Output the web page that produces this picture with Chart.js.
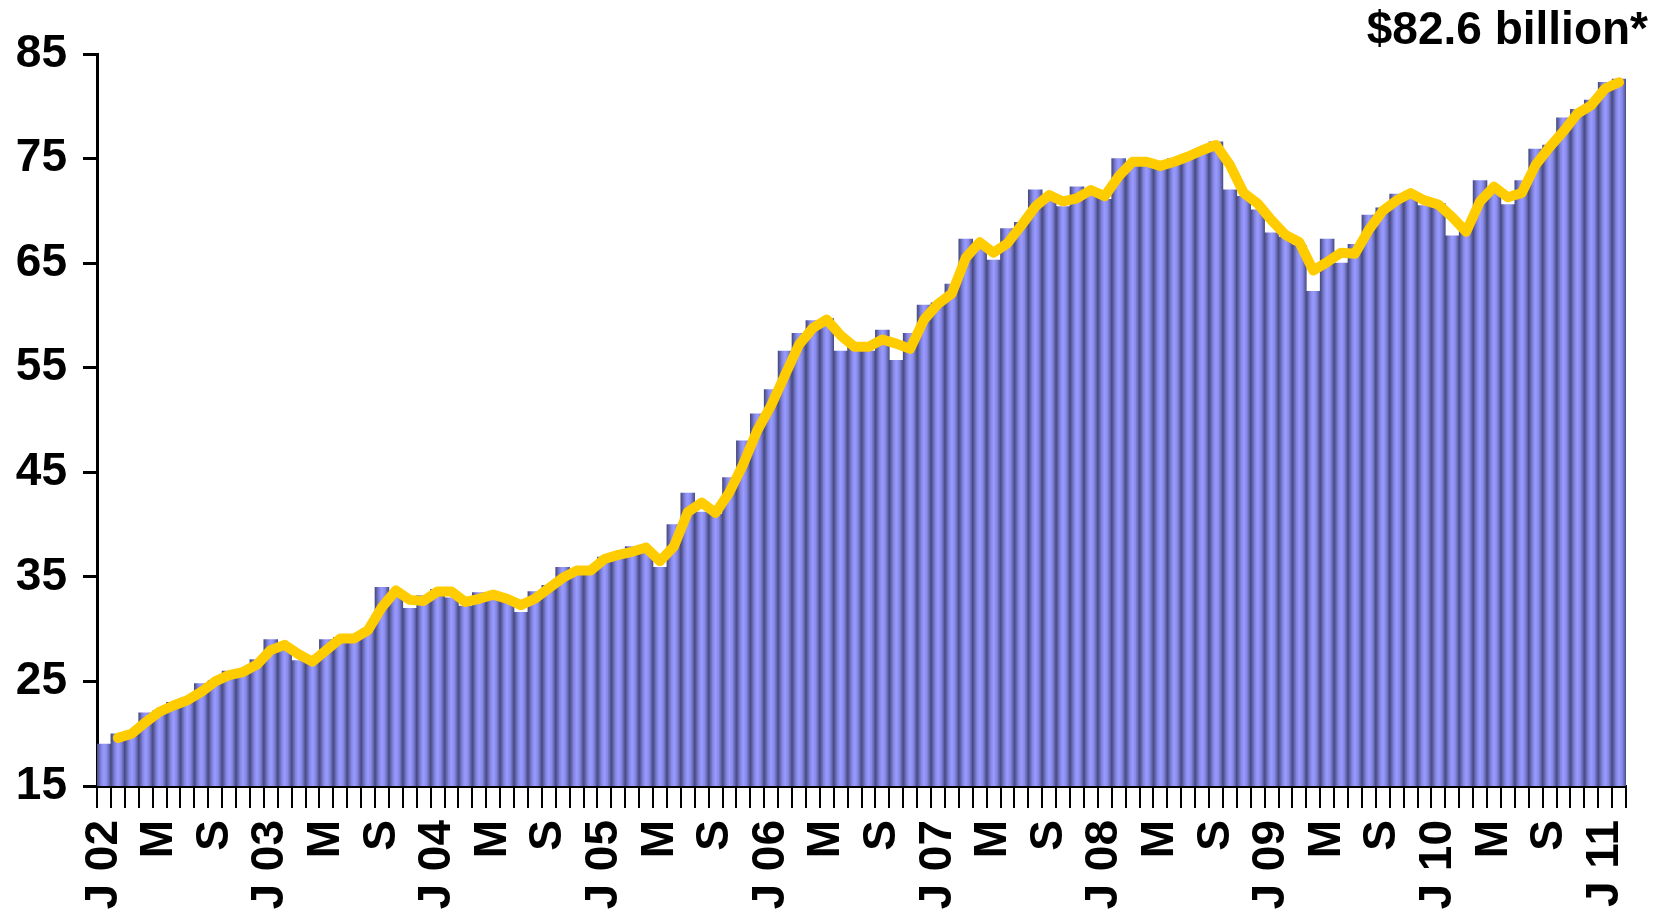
<!DOCTYPE html>
<html>
<head>
<meta charset="utf-8">
<script src="https://cdn.jsdelivr.net/npm/chart.js@4.4.1/dist/chart.umd.min.js"></script>
<style>
	html, body { margin: 0; padding: 0; background: #fff; }
	#wrap { width: 1661px; height: 912px; }
</style>
</head>
<body>
<div id="wrap"><canvas id="chart" width="1661" height="912"></canvas></div>
<script>
const monthNames = ["Jan", "Feb", "Mar", "Apr", "May", "Jun", "Jul", "Aug", "Sep", "Oct", "Nov", "Dec"]
const years = ["02", "03", "04", "05", "06", "07", "08", "09", "10", "11"]

// Jan 2002 .. Feb 2011, monthly
const categories = []
years.forEach(y => monthNames.forEach(m => categories.push(m + " " + y)))
categories.length = 110

const tickLabels = ["J 02", "M", "S", "J 03", "M", "S", "J 04", "M", "S", "J 05", "M", "S", "J 06", "M", "S",
	"J 07", "M", "S", "J 08", "M", "S", "J 09", "M", "S", "J 10", "M", "S", "J 11"]

const monthly = [
	19, 20, 20.2, 22, 22.2, 23, 23.4, 24.8, 25.1, 26,
	25.9, 27.1, 29, 28.2, 27, 26.8, 29, 29.2, 29, 30,
	34, 33.4, 32, 33.2, 33.8, 33, 32.2, 33.5, 32.8, 33,
	31.6, 33.6, 34.2, 35.9, 35.3, 35.9, 36.9, 37.3, 37.9, 37.7,
	35.9, 40, 43, 41.2, 41, 44.5, 48, 50.6, 52.9, 56.6,
	58.3, 59.5, 59.7, 56.6, 57.4, 56.6, 58.6, 55.7, 58.3, 61,
	61.2, 63, 67.3, 66.7, 65.3, 68.3, 68.9, 72, 71, 70.4,
	72.3, 71.7, 71.1, 75, 74.4, 74.8, 74.2, 75, 75.3, 75.9,
	76.6, 72, 71.4, 70.1, 67.9, 67.5, 66.7, 62.3, 67.3, 65,
	66.8, 69.6, 70.3, 71.6, 71.8, 70.5, 70.7, 67.6, 68.4, 72.9,
	71.7, 70.6, 72.9, 75.9, 76.3, 78.9, 79.7, 80.6, 82.3, 82.6
]

const average = [
	null, 19.6, 20.0, 21.1, 22.1, 22.7, 23.2, 24.0, 25.0, 25.6,
	25.9, 26.6, 28.0, 28.5, 27.6, 26.9, 28.0, 29.1, 29.1, 29.9,
	32.1, 33.7, 32.8, 32.7, 33.6, 33.6, 32.6, 32.9, 33.3, 32.9,
	32.3, 32.9, 33.9, 34.9, 35.6, 35.6, 36.7, 37.1, 37.4, 37.8,
	36.5, 37.9, 41.2, 42.1, 41.1, 43.1, 45.8, 49.0, 51.4, 54.3,
	57.2, 58.8, 59.6, 58.1, 57.0, 57.0, 57.7, 57.3, 56.8, 59.6,
	61.1, 62.1, 65.5, 67.0, 66.0, 66.9, 68.6, 70.4, 71.5, 70.9,
	71.2, 72.0, 71.4, 73.3, 74.7, 74.7, 74.3, 74.7, 75.2, 75.8,
	76.3, 74.4, 71.7, 70.7, 69.1, 67.7, 67.0, 64.3, 65.1, 66.0,
	65.9, 68.2, 70.0, 71.0, 71.7, 71.0, 70.6, 69.4, 68.0, 70.9,
	72.3, 71.3, 71.7, 74.4, 76.1, 77.6, 79.3, 80.1, 81.7, 82.3
]

const yTicks = [15, 25, 35, 45, 55, 65, 75, 85]
const title = "$82.6 billion*"
const font = "'Liberation Sans', Arial, sans-serif"

// every bar is shaded like a little cylinder
const barFill = ctx => {
	const x = ctx.chart.scales.x
	if (!x || ctx.dataIndex === undefined) return "#8c8ef0"
	const step = x.width / categories.length
	const cx = x.getPixelForValue(ctx.dataIndex)
	if (!isFinite(step) || !isFinite(cx) || step <= 0) return "#8c8ef0"
	const g = ctx.chart.ctx.createLinearGradient(cx - step / 2, 0, cx + step / 2, 0)
	g.addColorStop(0, "#464a7e")
	g.addColorStop(0.3, "#8486e4")
	g.addColorStop(0.5, "#9a9bff")
	g.addColorStop(0.72, "#8789e8")
	g.addColorStop(1, "#4a4e86")
	return g
}

const titlePlugin = {
	id: "cornerTitle",
	afterDraw: chart => {
		const c = chart.ctx
		c.save()
		c.font = "bold 46px " + font
		c.fillStyle = "#000"
		c.textAlign = "right"
		c.textBaseline = "alphabetic"
		c.fillText(title, 1648, 44)
		c.restore()
	}
}

const chart = new Chart(document.getElementById("chart"), {
	type: "bar",
	data: {
		labels: categories,
		datasets: [{
			type: "line",
			data: average,
			borderColor: "#ffcc00",
			borderWidth: 10,
			pointRadius: 0,
			tension: 0,
			borderJoinStyle: "round",
			borderCapStyle: "round",
			order: 0
		}, {
			data: monthly,
			backgroundColor: barFill,
			borderWidth: 0,
			categoryPercentage: 1,
			barPercentage: 1,
			order: 1
		}]
	},
	options: {
		responsive: false,
		animation: false,
		layout: { padding: { top: 54, right: 35, left: 0, bottom: 0 } },
		plugins: {
			legend: { display: false },
			tooltip: { enabled: false }
		},
		scales: {
			x: {
				afterFit: scale => {
					scale.height = 126
					scale.paddingLeft = 0
					scale.paddingRight = 0
				},
				grid: { drawOnChartArea: false, color: "#000", lineWidth: 2, tickLength: 22, offset: true },
				border: { color: "#000", width: 3 },
				ticks: {
					autoSkip: false,
					minRotation: 90,
					maxRotation: 90,
					padding: 12,
					color: "#000",
					font: { family: font, size: 46, weight: "bold" },
					callback: (value, index) => index % 4 == 0 ? tickLabels[index / 4] : ""
				}
			},
			y: {
				min: 15,
				max: 85,
				afterFit: scale => { scale.width = 97 },
				afterBuildTicks: scale => { scale.ticks = yTicks.map(v => ({ value: v })) },
				grid: { drawOnChartArea: false, color: "#000", lineWidth: 3, tickLength: 14 },
				border: { color: "#000", width: 3 },
				ticks: {
					padding: 16,
					color: "#000",
					font: { family: font, size: 46, weight: "bold" }
				}
			}
		}
	},
	plugins: [titlePlugin]
})
chart.update()
</script>
</body>
</html>
